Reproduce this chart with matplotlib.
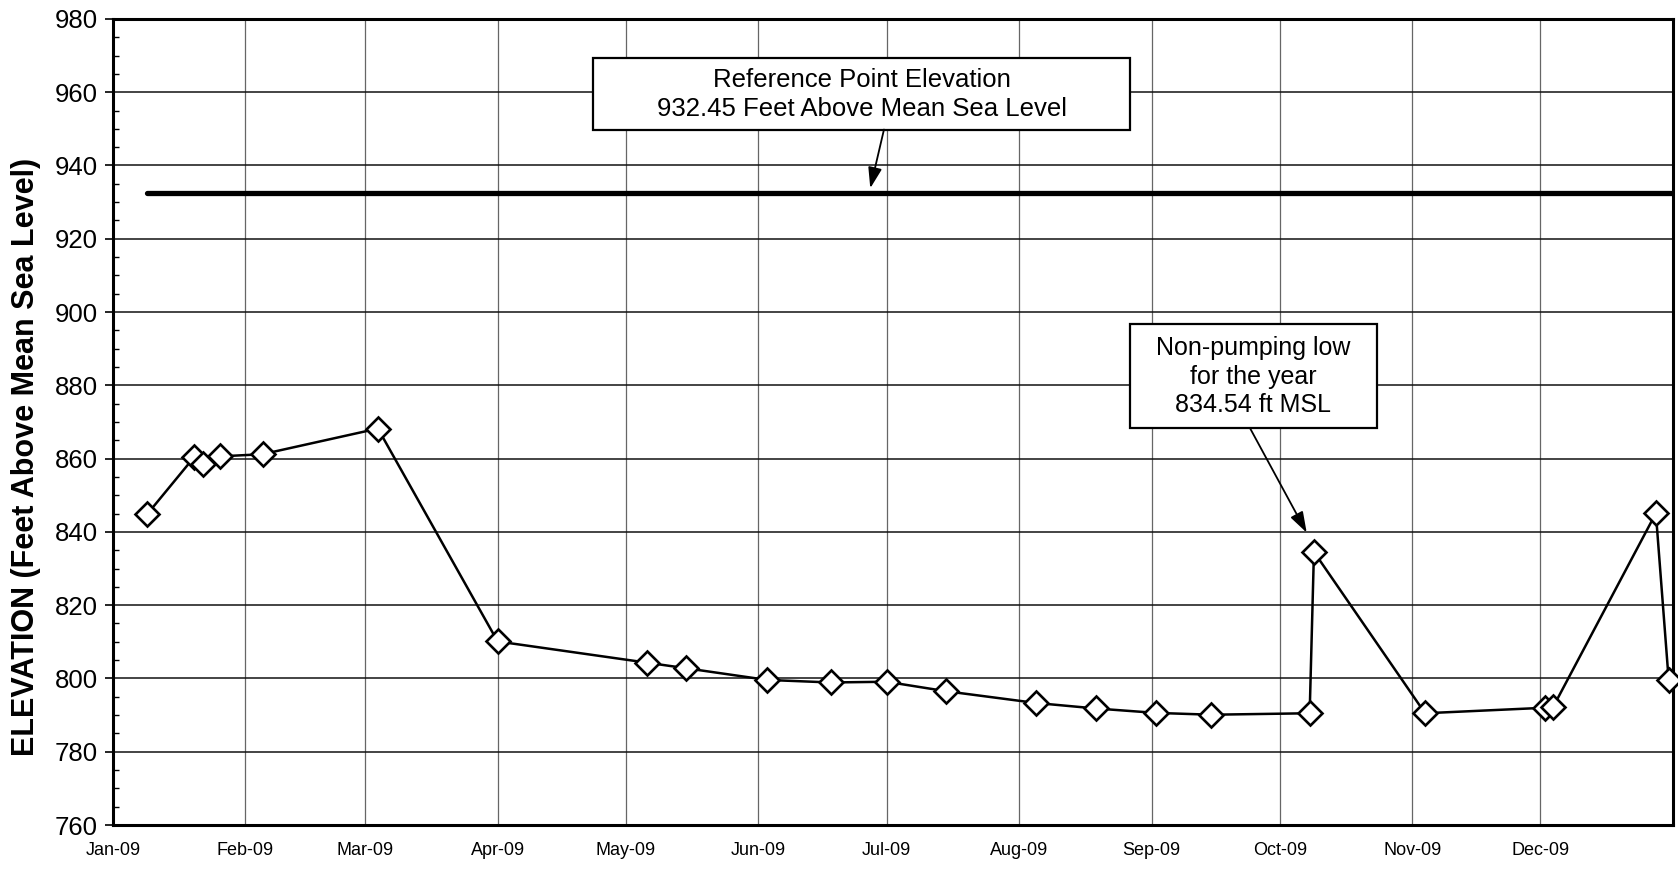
import datetime as dt

import matplotlib
matplotlib.use('Agg')
import matplotlib.pyplot as plt
import matplotlib.dates as mdates
from matplotlib.patches import Rectangle
from matplotlib.ticker import MultipleLocator

plt.rcParams['font.family'] = ['Liberation Sans', 'DejaVu Sans']

# water level readings (ft above mean sea level)
dates = ['2009-01-09', '2009-01-20', '2009-01-22', '2009-01-26', '2009-02-05',
         '2009-03-04', '2009-04-01', '2009-05-06', '2009-05-15', '2009-06-03',
         '2009-06-18', '2009-07-01', '2009-07-15', '2009-08-05', '2009-08-19',
         '2009-09-02', '2009-09-15', '2009-10-08', '2009-10-09', '2009-11-04',
         '2009-12-02', '2009-12-04', '2009-12-28', '2009-12-31']
elev = [844.8, 860.4, 858.4, 860.6, 861.2,
        868.2, 810.1, 804.3, 802.8, 799.6,
        798.9, 799.1, 796.5, 793.3, 791.8,
        790.6, 790.1, 790.5, 834.54, 790.5,
        792.0, 792.3, 845.1, 799.5]

ref_elev = 932.45
low_elev = 834.54

month_labels = ['Jan-09', 'Feb-09', 'Mar-09', 'Apr-09', 'May-09', 'Jun-09',
                'Jul-09', 'Aug-09', 'Sep-09', 'Oct-09', 'Nov-09', 'Dec-09']

x = [dt.datetime.strptime(d, '%Y-%m-%d') for d in dates]
t0 = mdates.date2num(dt.datetime(2009, 1, 1))


def day(n):
    # fractional day of 2009 -> matplotlib date number
    return t0 + n


fig = plt.figure(figsize=(16.78, 8.71), dpi=100)
ax = fig.add_axes([0.0673, 0.0528, 0.9297, 0.9255])

ax.set_xlim(dt.datetime(2009, 1, 1), dt.datetime(2010, 1, 1))
ax.set_ylim(760, 980)

ax.set_axisbelow(True)
ax.yaxis.set_major_locator(MultipleLocator(20))
ax.yaxis.set_minor_locator(MultipleLocator(5))
ax.grid(axis='y', which='major', color='#111111', lw=1.1)
ax.grid(axis='x', which='major', color='#666666', lw=0.9)

months = [dt.datetime(2009, m, 1) for m in range(1, 13)]
ax.set_xticks(months)
ax.set_xticklabels(month_labels)

ax.tick_params(axis='y', which='major', direction='out', length=6, width=1.2,
               labelsize=18.5, pad=5)
ax.tick_params(axis='y', which='minor', direction='in', length=4, width=1.0)
ax.tick_params(axis='x', which='major', length=0, labelsize=13, pad=12)

for s in ax.spines.values():
    s.set_linewidth(2.2)
    s.set_color('black')

# reference point line
ax.plot([x[0], dt.datetime(2010, 1, 1)], [ref_elev, ref_elev], color='black',
        lw=3.8, solid_capstyle='round', zorder=3)

# measured levels
ax.plot(x, elev, color='black', lw=1.8, marker='D', ms=12, mfc='white',
        mec='black', mew=1.9, zorder=6, clip_on=False)

# callout 1
ax.add_patch(Rectangle((day(112.4), 949.8), 125.6, 19.4, fc='white',
                       ec='black', lw=1.6, zorder=4))
ax.text(day(175.2), 959.4,
        'Reference Point Elevation\n932.45 Feet Above Mean Sea Level',
        ha='center', va='center', fontsize=18.5, linespacing=1.3, zorder=5)
ax.annotate('', xy=(day(177.2), 933.8), xytext=(day(180.4), 949.8),
            arrowprops=dict(arrowstyle='-|>,head_length=0.9,head_width=0.3',
                            mutation_scale=14, color='black', lw=1.3,
                            shrinkA=0, shrinkB=0), zorder=5)

# callout 2
ax.add_patch(Rectangle((day(238.0), 868.4), 57.7, 28.3, fc='white',
                       ec='black', lw=1.6, zorder=4))
ax.text(day(266.8), 882.4,
        'Non-pumping low\nfor the year\n%.2f ft MSL' % low_elev,
        ha='center', va='center', fontsize=18, linespacing=1.25, zorder=5)
ax.annotate('', xy=(day(279.3), 839.8), xytext=(day(266.0), 868.4),
            arrowprops=dict(arrowstyle='-|>,head_length=0.9,head_width=0.3',
                            mutation_scale=14, color='black', lw=1.3,
                            shrinkA=0, shrinkB=0), zorder=5)

fig.text(0.0155, 0.475, 'ELEVATION (Feet Above Mean Sea Level)', rotation=90,
         ha='center', va='center', fontsize=22, fontweight='bold')

plt.savefig('out.png', dpi=100)
